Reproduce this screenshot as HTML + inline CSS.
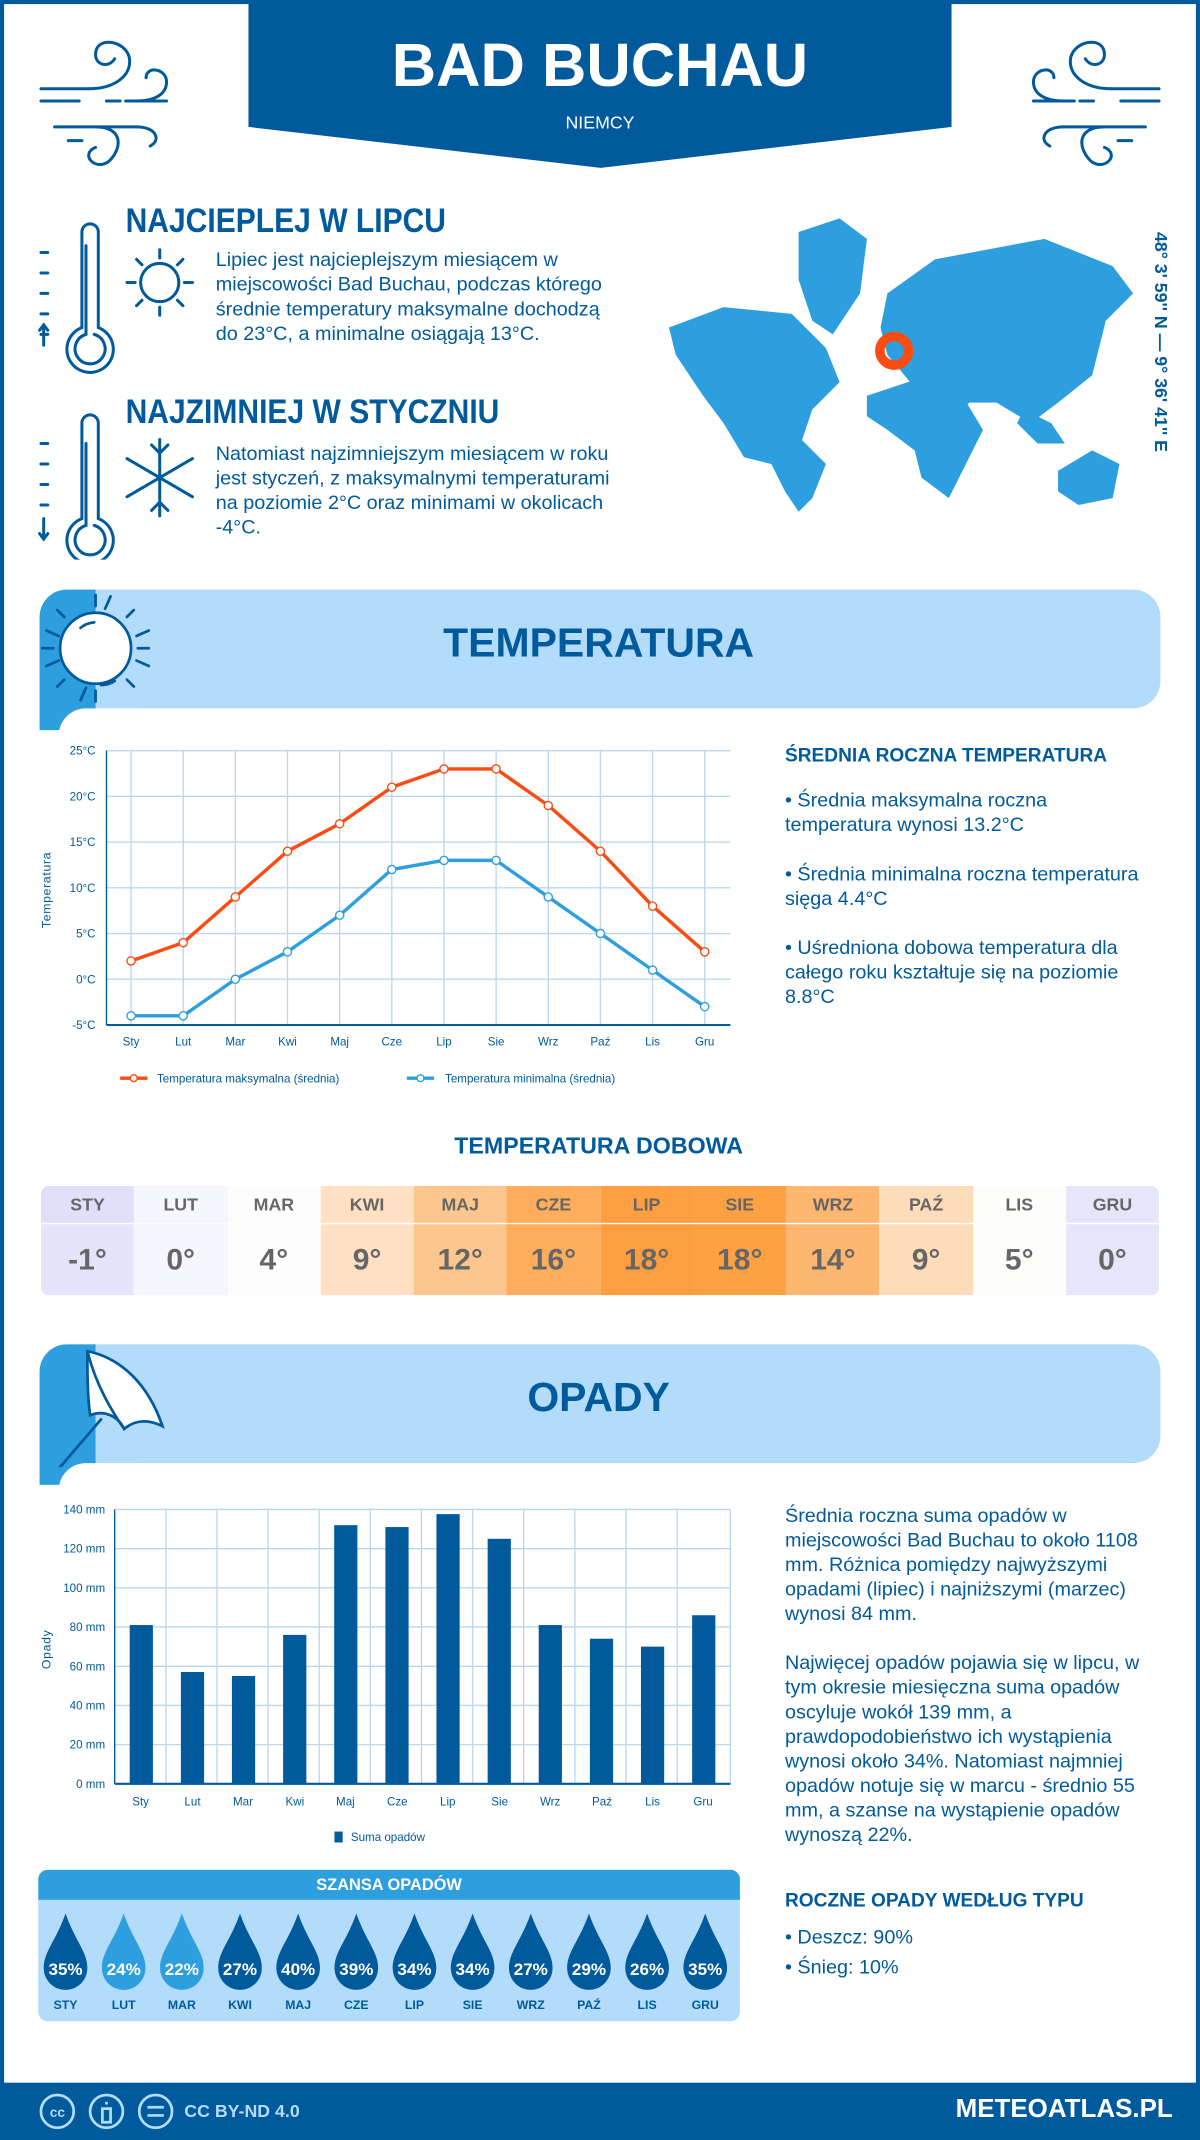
<!DOCTYPE html>
<html><head><meta charset="utf-8">
<style>
*{margin:0;padding:0;box-sizing:border-box}
html,body{width:1200px;height:2140px;overflow:hidden;background:#fff}
#w{position:absolute;left:0;top:0;width:879px;height:1568px;transform:scale(1.36519,1.36480);transform-origin:0 0;font-family:"Liberation Sans",sans-serif;color:#005a9c}
.a{position:absolute}
.t{font-family:"Liberation Sans",sans-serif;}
.h{font-weight:bold;color:#005a9c;white-space:nowrap}
.p{font-size:14.5px;line-height:18px;color:#005a9c}
.sx{transform:scaleX(0.88);transform-origin:0 0}
</style></head><body><div id="w">
<div class="a" style="left:0;top:0;width:879px;height:1568px;border:3px solid #005a9c;border-bottom:none"></div>
<svg class="a" style="left:0;top:0" width="879" height="130">
<polygon points="182,0 697,0 697,93 440,123 182,93" fill="#005a9c"/>
<g fill="none" stroke="#005a9c" stroke-width="2.2" stroke-linecap="round">
<path d="M30,65 h35 M30,74 h28 M78,74 h10 M92,74 h30 M40,93 h60 M50,103 h10"/>
<path d="M65,65 c20,0 30,-10 30,-20 c0,-15 -25,-20 -25,-5 c0,8 10,10 14,3"/>
<path d="M100,74 c15,0 22,-6 22,-14 c0,-10 -15,-12 -15,-3"/>
<path d="M70,93 c20,0 20,15 10,25 c-10,8 -22,-5 -10,-10"/>
<path d="M100,93 c15,0 18,10 10,14"/>
<g transform="translate(879,0) scale(-1,1)"><path d="M30,65 h35 M30,74 h28 M78,74 h10 M92,74 h30 M40,93 h60 M50,103 h10"/>
<path d="M65,65 c20,0 30,-10 30,-20 c0,-15 -25,-20 -25,-5 c0,8 10,10 14,3"/>
<path d="M100,74 c15,0 22,-6 22,-14 c0,-10 -15,-12 -15,-3"/>
<path d="M70,93 c20,0 20,15 10,25 c-10,8 -22,-5 -10,-10"/>
<path d="M100,93 c15,0 18,10 10,14"/></g>
</g></svg>
<div class="a h" style="left:182px;width:515px;top:20px;text-align:center;color:#fff;font-size:45px;line-height:56px">BAD BUCHAU</div>
<div class="a" style="left:182px;width:515px;top:82px;text-align:center;color:#fff;font-size:13px">NIEMCY</div>

<svg class="a" style="left:20px;top:150px" width="135" height="260" fill="none" stroke="#005a9c" stroke-width="2.2" stroke-linecap="round">
<path d="M40,20 v70 a17,17 0 1 0 12,0 v-70 a6,6 0 0 0 -12,0z"/><path d="M43,30 v65 a11,11 0 1 0 6,0"/>
<path d="M10,35 h5 M10,50 h5 M10,65 h5 M10,80 h5 M10,95 h5 M12,88 v15 M9,92 l3,-4 l3,4"/>
<circle cx="97" cy="57" r="14"/><path d="M97,33 v6 M97,75 v6 M73,57 h6 M115,57 h6 M80,40 l4,4 M110,70 l4,4 M80,74 l4,-4 M110,44 l4,-4"/>
<path d="M40,160 v70 a17,17 0 1 0 12,0 v-70 a6,6 0 0 0 -12,0z"/><path d="M43,175 v60 a11,11 0 1 0 6,0"/>
<path d="M10,175 h5 M10,190 h5 M10,205 h5 M10,220 h5 M12,230 v15 M9,241 l3,4 l3,-4"/>
<path d="M97,172 v56 M73,186 l48,28 M73,214 l48,-28 M91,176 l6,6 l6,-6 M91,224 l6,-6 l6,6"/>
</svg>
<div class="a h sx" style="left:92px;top:148px;font-size:25px">NAJCIEPLEJ W LIPCU</div>
<div class="a p" style="left:158px;top:182px;width:292px">Lipiec jest najcieplejszym miesiącem w miejscowości Bad Buchau, podczas którego średnie temperatury maksymalne dochodzą do 23°C, a minimalne osiągają 13°C.</div>
<div class="a h sx" style="left:92px;top:288px;font-size:25px">NAJZIMNIEJ W STYCZNIU</div>
<div class="a p" style="left:158px;top:324px;width:292px">Natomiast najzimniejszym miesiącem w roku jest styczeń, z maksymalnymi temperaturami na poziomie 2°C oraz minimami w okolicach -4°C.</div>

<svg class="a" style="left:485px;top:150px" width="360" height="230" fill="#2e9fde">
<path d="M5,90 l40,-15 l50,5 l25,25 l10,25 l-20,20 l-10,30 l-20,10 l-20,-5 l-15,-25 l-15,-20 l-20,-30z"/>
<path d="M100,20 l30,-10 l20,15 l-5,40 l-20,30 l-15,-10 l-10,-30z"/>
<path d="M75,175 l25,-5 l20,20 l-10,25 l-10,10 l-10,-15 l-10,-20z"/>
<path d="M150,140 l45,-15 l25,15 l15,25 l-15,30 l-10,20 l-20,-15 l-5,-20 l-20,-15 l-15,-10z"/>
<path d="M165,65 l35,-25 l80,-15 l50,20 l15,20 l-20,20 l-10,40 l-25,20 l-20,15 l-25,-15 l-20,0 l-15,15 l-20,-20 l-25,-30 l-5,-20z"/>
<path d="M290,195 l25,-15 l20,10 l-5,25 l-25,5 l-15,-10z"/>
<path d="M265,150 l20,10 l10,15 l-20,0 l-15,-15z"/>
</svg>
<svg class="a" style="left:640px;top:242px" width="32" height="32"><circle cx="15" cy="15" r="10.5" fill="none" stroke="#fb4c13" stroke-width="7"/></svg>
<div class="a h" style="top:170px;font-size:13px;transform:rotate(90deg);transform-origin:0 0;left:858px">48° 3' 59'' N — 9° 36' 41'' E</div>

<div class="a" style="left:29px;top:432px;width:821px;height:87px;background:#b3dcfb;border-radius:20px"></div>
<div class="a" style="left:29px;top:432px;width:41px;height:103px;background:#2e9fde;border-radius:20px 0 0 0"></div>
<div class="a" style="left:43px;top:519px;width:60px;height:30px;background:#fff;border-radius:20px 0 0 0"></div>
<svg class="a" style="left:29px;top:432px" width="100" height="90" fill="none" stroke="#005a9c" stroke-width="2" stroke-linecap="round">
<circle cx="41" cy="43" r="26" fill="#fff"/><path d="M30,28 a18,18 0 0 1 10,-4 M45,70 a18,18 0 0 0 10,-3"/>
<path d="M41,4 v8 M41,74 v8 M2,43 h8 M72,43 h8 M13,15 l5,5 M64,66 l5,5 M13,71 l5,-5 M64,20 l5,-5 M52,5 l-4,9 M30,81 l4,-9 M80,30 l-9,4 M5,56 l9,-4 M5,30 l9,4 M80,56 l-9,-4"/>
</svg>
<div class="a h" style="left:200px;width:477px;text-align:center;top:455px;font-size:30px">TEMPERATURA</div>

<svg class="a t" style="left:0;top:540px" width="560" height="270" font-size="8.5" fill="#005a9c">
<g stroke="#bcd8ee" stroke-width="1">
<line x1="78" x2="535" y1="10" y2="10"/><line x1="78" x2="535" y1="43.5" y2="43.5"/><line x1="78" x2="535" y1="77" y2="77"/><line x1="78" x2="535" y1="110.5" y2="110.5"/><line x1="78" x2="535" y1="144" y2="144"/><line x1="78" x2="535" y1="177.5" y2="177.5"/>
<path d="M96,10v201M134.2,10v201M172.4,10v201M210.6,10v201M248.8,10v201M287,10v201M325.2,10v201M363.4,10v201M401.6,10v201M439.8,10v201M478,10v201M516.2,10v201"/>
</g>
<line x1="78" x2="78" y1="10" y2="211" stroke="#005a9c"/><line x1="78" x2="535" y1="211" y2="211" stroke="#005a9c" stroke-width="1.5"/>
<g text-anchor="end"><text x="70" y="13">25°C</text><text x="70" y="46.5">20°C</text><text x="70" y="80">15°C</text><text x="70" y="113.5">10°C</text><text x="70" y="147">5°C</text><text x="70" y="180.5">0°C</text><text x="70" y="214">-5°C</text></g>
<text transform="translate(37,140) rotate(-90)" font-size="9" letter-spacing="0.5">Temperatura</text>
<g text-anchor="middle"><text x="96" y="226">Sty</text><text x="134.2" y="226">Lut</text><text x="172.4" y="226">Mar</text><text x="210.6" y="226">Kwi</text><text x="248.8" y="226">Maj</text><text x="287" y="226">Cze</text><text x="325.2" y="226">Lip</text><text x="363.4" y="226">Sie</text><text x="401.6" y="226">Wrz</text><text x="439.8" y="226">Paź</text><text x="478" y="226">Lis</text><text x="516.2" y="226">Gru</text></g>
<polyline fill="none" stroke="#fb4c13" stroke-width="2.5" points="96,164.1 134.2,150.7 172.4,117.2 210.6,83.7 248.8,63.6 287,36.8 325.2,23.4 363.4,23.4 401.6,50.2 439.8,83.7 478,123.9 516.2,157.4"/>
<polyline fill="none" stroke="#2e9fde" stroke-width="2.5" points="96,204.3 134.2,204.3 172.4,177.5 210.6,157.4 248.8,130.6 287,97.1 325.2,90.4 363.4,90.4 401.6,117.2 439.8,144 478,170.8 516.2,197.6"/>
<g fill="#fff" stroke="#fb4c13" stroke-width="1"><circle cx="96" cy="164.1" r="3"/><circle cx="134.2" cy="150.7" r="3"/><circle cx="172.4" cy="117.2" r="3"/><circle cx="210.6" cy="83.7" r="3"/><circle cx="248.8" cy="63.6" r="3"/><circle cx="287" cy="36.8" r="3"/><circle cx="325.2" cy="23.4" r="3"/><circle cx="363.4" cy="23.4" r="3"/><circle cx="401.6" cy="50.2" r="3"/><circle cx="439.8" cy="83.7" r="3"/><circle cx="478" cy="123.9" r="3"/><circle cx="516.2" cy="157.4" r="3"/></g>
<g fill="#fff" stroke="#2e9fde" stroke-width="1"><circle cx="96" cy="204.3" r="3"/><circle cx="134.2" cy="204.3" r="3"/><circle cx="172.4" cy="177.5" r="3"/><circle cx="210.6" cy="157.4" r="3"/><circle cx="248.8" cy="130.6" r="3"/><circle cx="287" cy="97.1" r="3"/><circle cx="325.2" cy="90.4" r="3"/><circle cx="363.4" cy="90.4" r="3"/><circle cx="401.6" cy="117.2" r="3"/><circle cx="439.8" cy="144" r="3"/><circle cx="478" cy="170.8" r="3"/><circle cx="516.2" cy="197.6" r="3"/></g>
<line x1="88" x2="108" y1="250" y2="250" stroke="#fb4c13" stroke-width="2.5"/><circle cx="98" cy="250" r="2.5" fill="#fff" stroke="#fb4c13"/>
<text x="115" y="253">Temperatura maksymalna (średnia)</text>
<line x1="298" x2="318" y1="250" y2="250" stroke="#2e9fde" stroke-width="2.5"/><circle cx="308" cy="250" r="2.5" fill="#fff" stroke="#2e9fde"/>
<text x="326" y="253">Temperatura minimalna (średnia)</text>
</svg>
<div class="a h" style="left:575px;top:545px;font-size:14px">ŚREDNIA ROCZNA TEMPERATURA</div>
<div class="a p" style="left:575px;top:578px;width:262px">• Średnia maksymalna roczna temperatura wynosi 13.2°C<br><br>• Średnia minimalna roczna temperatura sięga 4.4°C<br><br>• Uśredniona dobowa temperatura dla całego roku kształtuje się na poziomie 8.8°C</div>

<div class="a h" style="left:200px;width:477px;text-align:center;top:830px;font-size:17px">TEMPERATURA DOBOWA</div>
<div class="a" style="left:30px;top:869px;width:819px;height:80px;border-radius:6px;overflow:hidden;display:flex;font-weight:bold;color:#666;text-align:center">
<div style="flex:1;background:#e4e4fb"><div style="height:28px;line-height:28px;font-size:13px;background:#e0e0fa;border-bottom:1px solid #fff">STY</div><div style="line-height:52px;font-size:22px">-1°</div></div>
<div style="flex:1;background:#f6f7fe"><div style="height:28px;line-height:28px;font-size:13px;border-bottom:1px solid #fff">LUT</div><div style="line-height:52px;font-size:22px">0°</div></div>
<div style="flex:1;background:#fdfdfd"><div style="height:28px;line-height:28px;font-size:13px;border-bottom:1px solid #fff">MAR</div><div style="line-height:52px;font-size:22px">4°</div></div>
<div style="flex:1;background:#fde1c2"><div style="height:28px;line-height:28px;font-size:13px;border-bottom:1px solid #fff">KWI</div><div style="line-height:52px;font-size:22px">9°</div></div>
<div style="flex:1;background:#fdc68f"><div style="height:28px;line-height:28px;font-size:13px;border-bottom:1px solid #fff">MAJ</div><div style="line-height:52px;font-size:22px">12°</div></div>
<div style="flex:1;background:#fdad5c"><div style="height:28px;line-height:28px;font-size:13px;border-bottom:1px solid #fff">CZE</div><div style="line-height:52px;font-size:22px">16°</div></div>
<div style="flex:1;background:#fd9f40"><div style="height:28px;line-height:28px;font-size:13px;border-bottom:1px solid #fff">LIP</div><div style="line-height:52px;font-size:22px">18°</div></div>
<div style="flex:1;background:#fda142"><div style="height:28px;line-height:28px;font-size:13px;border-bottom:1px solid #fff">SIE</div><div style="line-height:52px;font-size:22px">18°</div></div>
<div style="flex:1;background:#fdb770"><div style="height:28px;line-height:28px;font-size:13px;border-bottom:1px solid #fff">WRZ</div><div style="line-height:52px;font-size:22px">14°</div></div>
<div style="flex:1;background:#fddcb9"><div style="height:28px;line-height:28px;font-size:13px;border-bottom:1px solid #fff">PAŹ</div><div style="line-height:52px;font-size:22px">9°</div></div>
<div style="flex:1;background:#fdfdfc"><div style="height:28px;line-height:28px;font-size:13px;border-bottom:1px solid #fff">LIS</div><div style="line-height:52px;font-size:22px">5°</div></div>
<div style="flex:1;background:#e6e6fb"><div style="height:28px;line-height:28px;font-size:13px;border-bottom:1px solid #fff">GRU</div><div style="line-height:52px;font-size:22px">0°</div></div>
</div>

<div class="a" style="left:29px;top:985px;width:821px;height:87px;background:#b3dcfb;border-radius:20px"></div>
<div class="a" style="left:29px;top:985px;width:41px;height:103px;background:#2e9fde;border-radius:20px 0 0 0"></div>
<div class="a" style="left:43px;top:1072px;width:60px;height:30px;background:#fff;border-radius:20px 0 0 0"></div>
<svg class="a" style="left:29px;top:985px" width="100" height="90" fill="none" stroke="#005a9c" stroke-width="2" stroke-linecap="round">
<path d="M35,5 c25,5 45,25 55,55 c-10,-5 -20,-5 -28,2 c-5,-10 -15,-14 -25,-10 c-2,-15 -2,-30 -2,-47z" fill="#fff"/>
<path d="M35,5 c5,20 15,40 27,57 M45,55 l-30,35"/>
</svg>
<div class="a h" style="left:200px;width:477px;text-align:center;top:1008px;font-size:30px">OPADY</div>

<svg class="a t" style="left:0;top:1096px" width="560" height="260" font-size="8.5" fill="#005a9c">
<g stroke="#bcd8ee" stroke-width="1">
<path d="M84,10h451M84,38.7h451M84,67.4h451M84,96.1h451M84,124.9h451M84,153.6h451M84,182.3h451"/>
<path d="M121.5,10v201M158.9,10v201M196.4,10v201M233.8,10v201M271.3,10v201M308.7,10v201M346.2,10v201M383.6,10v201M421.1,10v201M458.5,10v201M496,10v201M535,10v201"/>
</g>
<line x1="84" x2="84" y1="10" y2="211" stroke="#005a9c"/><line x1="84" x2="535" y1="211" y2="211" stroke="#005a9c" stroke-width="1.5"/>
<g text-anchor="end"><text x="77" y="13">140 mm</text><text x="77" y="41.7">120 mm</text><text x="77" y="70.4">100 mm</text><text x="77" y="99.1">80 mm</text><text x="77" y="127.9">60 mm</text><text x="77" y="156.6">40 mm</text><text x="77" y="185.3">20 mm</text><text x="77" y="214">0 mm</text></g>
<text transform="translate(37,127) rotate(-90)" font-size="9" letter-spacing="0.5">Opady</text>
<g fill="#005a9c">
<rect x="95" y="94.7" width="17" height="116.3"/><rect x="132.5" y="129.1" width="17" height="81.9"/><rect x="169.9" y="132" width="17" height="79"/><rect x="207.4" y="101.9" width="17" height="109.1"/><rect x="244.8" y="21.5" width="17" height="189.5"/><rect x="282.3" y="22.9" width="17" height="188.1"/><rect x="319.7" y="13.4" width="17" height="197.6"/><rect x="357.2" y="31.5" width="17" height="179.5"/><rect x="394.6" y="94.7" width="17" height="116.3"/><rect x="432.1" y="104.7" width="17" height="106.3"/><rect x="469.5" y="110.5" width="17" height="100.5"/><rect x="507" y="87.5" width="17" height="123.5"/>
</g>
<g text-anchor="middle"><text x="103" y="227">Sty</text><text x="141" y="227">Lut</text><text x="178" y="227">Mar</text><text x="216" y="227">Kwi</text><text x="253" y="227">Maj</text><text x="291" y="227">Cze</text><text x="328" y="227">Lip</text><text x="366" y="227">Sie</text><text x="403" y="227">Wrz</text><text x="441" y="227">Paź</text><text x="478" y="227">Lis</text><text x="515" y="227">Gru</text></g>
<rect x="245" y="246" width="6" height="8"/><text x="257" y="253">Suma opadów</text>
</svg>
<div class="a p" style="left:575px;top:1102px;width:262px">Średnia roczna suma opadów w miejscowości Bad Buchau to około 1108 mm. Różnica pomiędzy najwyższymi opadami (lipiec) i najniższymi (marzec) wynosi 84 mm.<br><br>Najwięcej opadów pojawia się w lipcu, w tym okresie miesięczna suma opadów oscyluje wokół 139 mm, a prawdopodobieństwo ich wystąpienia wynosi około 34%. Natomiast najmniej opadów notuje się w marcu - średnio 55 mm, a szanse na wystąpienie opadów wynoszą 22%.</div>

<div class="a" style="left:28px;top:1370px;width:514px;height:111px;background:#b3dcfb;border-radius:7px;overflow:hidden">
<div style="height:22px;background:#2e9fde;color:#fff;font-weight:bold;font-size:12px;line-height:22px;text-align:center">SZANSA OPADÓW</div>
</div>
<svg class="a t" style="left:28px;top:1392px" width="514" height="89" font-weight="bold" text-anchor="middle">
<defs><path id="dr" d="M0,10 c-7,20 -16,28 -16,40 a16,16 0 0 0 32,0 c0,-12 -9,-20 -16,-40z"/></defs>
<g font-size="12.5" fill="#fff">
<use href="#dr" x="20" fill="#005a9c"/><text x="20" y="55">35%</text>
<use href="#dr" x="62.6" fill="#2e9fde"/><text x="62.6" y="55">24%</text>
<use href="#dr" x="105.2" fill="#2e9fde"/><text x="105.2" y="55">22%</text>
<use href="#dr" x="147.8" fill="#005a9c"/><text x="147.8" y="55">27%</text>
<use href="#dr" x="190.4" fill="#005a9c"/><text x="190.4" y="55">40%</text>
<use href="#dr" x="233" fill="#005a9c"/><text x="233" y="55">39%</text>
<use href="#dr" x="275.6" fill="#005a9c"/><text x="275.6" y="55">34%</text>
<use href="#dr" x="318.2" fill="#005a9c"/><text x="318.2" y="55">34%</text>
<use href="#dr" x="360.8" fill="#005a9c"/><text x="360.8" y="55">27%</text>
<use href="#dr" x="403.4" fill="#005a9c"/><text x="403.4" y="55">29%</text>
<use href="#dr" x="446" fill="#005a9c"/><text x="446" y="55">26%</text>
<use href="#dr" x="488.6" fill="#005a9c"/><text x="488.6" y="55">35%</text>
</g>
<g font-size="9" fill="#005a9c"><text x="20" y="80">STY</text><text x="62.6" y="80">LUT</text><text x="105.2" y="80">MAR</text><text x="147.8" y="80">KWI</text><text x="190.4" y="80">MAJ</text><text x="233" y="80">CZE</text><text x="275.6" y="80">LIP</text><text x="318.2" y="80">SIE</text><text x="360.8" y="80">WRZ</text><text x="403.4" y="80">PAŹ</text><text x="446" y="80">LIS</text><text x="488.6" y="80">GRU</text></g>
</svg>
<div class="a h" style="left:575px;top:1384px;font-size:14px">ROCZNE OPADY WEDŁUG TYPU</div>
<div class="a p" style="left:575px;top:1409px;line-height:22px">• Deszcz: 90%<br>• Śnieg: 10%</div>

<div class="a" style="left:0;top:1526px;width:879px;height:42px;background:#005a9c"></div>
<svg class="a" style="left:28px;top:1532px" width="110" height="30" fill="none" stroke="#b3dcfb" stroke-width="2">
<circle cx="14" cy="15" r="12"/><circle cx="50" cy="15" r="12"/><circle cx="86" cy="15" r="12"/>
<path d="M80,12h12M80,18h12M50,8v2M47,13h6v10h-6z"/>
<text x="14" y="19" font-size="10" fill="#b3dcfb" stroke="none" text-anchor="middle" font-family="Liberation Sans" font-weight="bold">cc</text>
</svg>
<div class="a h" style="left:135px;top:1539px;font-size:13px;color:#b3dcfb">CC BY-ND 4.0</div>
<div class="a h" style="left:700px;width:152px;text-align:right;top:1535px;font-size:19px;color:#fff">METEOATLAS.PL</div>
</div></body></html>
